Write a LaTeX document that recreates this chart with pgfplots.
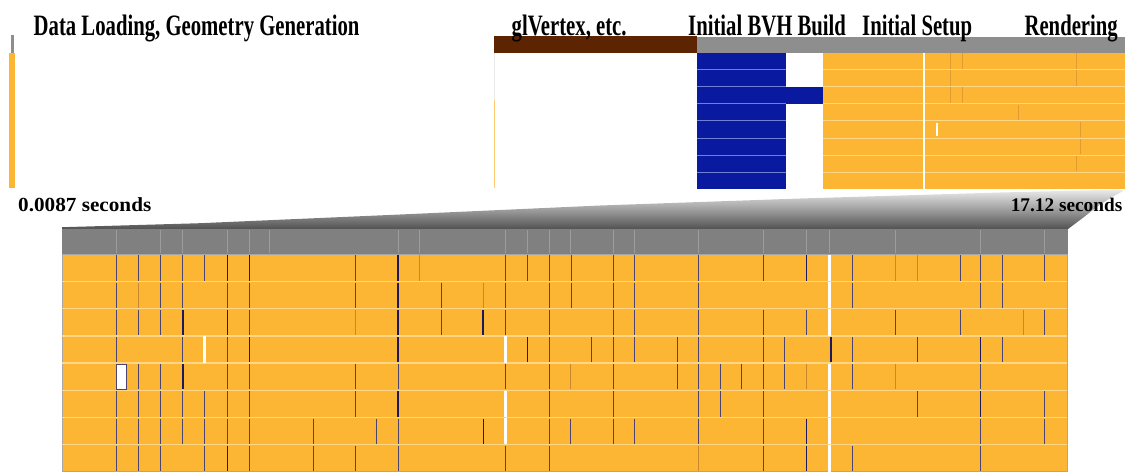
\documentclass[border=0pt]{standalone}
\usepackage{pgfplots}
\pgfplotsset{compat=1.18}
\usepackage{pgfplotstable}
\usepackage{fontspec}
\setmainfont{Liberation Serif}
\newfontfamily\condfont[FakeStretch=0.7]{Liberation Serif}
\newfontfamily\widefont[FakeStretch=1.06]{Liberation Serif}

\definecolor{task}{HTML}{FDB634}
\definecolor{taskline}{HTML}{FFD684}
\definecolor{bvh}{HTML}{0A1AA0}
\definecolor{bvhline}{HTML}{7080D4}
\definecolor{glv}{HTML}{5C2400}
\definecolor{hdr}{HTML}{8E8E8E}
\definecolor{hdrlow}{HTML}{808080}
\definecolor{hdrtick}{HTML}{9C9C9C}
\definecolor{sep}{HTML}{4A4470}
\definecolor{sepdark}{HTML}{1C1A5C}
\definecolor{sepfaint}{HTML}{C8882E}

% Rendering phase, per thread: task boundaries (x position, thread row)
\pgfplotstableread{
x r
116.7 0
138.9 0
160.7 0
182.9 0
204.7 0
355.9 0
505.7 0
527.7 0
549 0
571 0
613.4 0
634.6 0
698.4 0
763.4 0
852.8 0
960.4 0
980.2 0
1002 0
1044.6 0
116.7 1
160.7 1
182.9 1
227.5 1
249.3 1
355.9 1
441 1
505.7 1
549 1
571 1
613.4 1
634.6 1
698.4 1
852.8 1
980.2 1
1002 1
116.7 2
138.9 2
160.7 2
249.3 2
441 2
505.7 2
549 2
613.4 2
634.6 2
698.4 2
763.4 2
806.7 2
895.7 2
960.4 2
1044.6 2
116.7 3
182.9 3
227.5 3
549 3
591.7 3
613.4 3
634.6 3
677.4 3
698.4 3
763.4 3
784.3 3
852.8 3
917 3
1002 3
138.9 4
160.7 4
227.5 4
249.3 4
355.9 4
398 4
505.7 4
549 4
613.4 4
677.4 4
698.4 4
720 4
741.7 4
763.4 4
784.3 4
852.8 4
980.2 4
116.7 5
138.9 5
160.7 5
182.9 5
204.5 5
227.5 5
249.3 5
355.9 5
549 5
613.4 5
698.4 5
720 5
763.4 5
917 5
1044.6 5
116.7 6
138.9 6
160.7 6
182.9 6
204.5 6
227.5 6
249.3 6
313.5 6
376.7 6
398 6
549 6
570.7 6
613.4 6
634.6 6
698.4 6
763.4 6
980.2 6
1044.6 6
116.7 7
138.9 7
160.7 7
204.5 7
249.3 7
313.5 7
355.9 7
398 7
505.7 7
549 7
763.4 7
852.8 7
980.2 7
}\sepnormal

\pgfplotstableread{
x r
227.5 0
249.3 0
398 0
806.7 0
398 1
182.9 2
227.5 2
398 2
483 2
249.3 3
398 3
527.7 3
831 3
980.2 3
182.9 4
398 5
980.2 5
483.3 6
806.7 6
227.5 7
806.7 7
}\sepdarktab

\pgfplotstableread{
x r
419 0
895.7 0
917 0
138.9 1
483 1
355.9 2
1023.6 2
570.7 4
806.7 4
895.7 4
698.4 7
}\sepfainttab

\pgfplotstableread{
x r w
829.4 0 3
829.4 1 3
829.4 2 3
204.5 3 1.5
505.7 3 2.2
829.4 4 3
505.7 5 2.2
829.4 5 3
505.7 6 2.2
829.4 6 3
829.4 7 3
}\gaptab

% faint boundaries inside the short rendering block of the overview
\pgfplotstableread{
x r
950.5 0
962 0
1076 0
950.5 1
1076 1
950.5 2
962 2
1018.6 3
1080.5 4
1080.5 5
1076 6
}\overviewsep

\begin{document}
\begin{tikzpicture}
\begin{axis}[
  x=1pt, y=1pt, y dir=reverse,
  xmin=0, xmax=1127, ymin=0, ymax=474,
  scale only axis, clip=false,
  axis lines=box, axis line style={draw=none},
  xtick=\empty, ytick=\empty,
]
% ---------- overview timeline ----------
% data loading (compressed)
\addplot[fill=hdr, draw=none] coordinates {(11,35) (14,35) (14,52.5) (11,52.5)} -- cycle;
\addplot[fill=task, draw=none] coordinates {(8.5,52.5) (15,52.5) (15,188) (8.5,188)} -- cycle;
% glVertex phase
\addplot[fill=glv, draw=none] coordinates {(494.3,36) (696.7,36) (696.7,52.5) (494.3,52.5)} -- cycle;
\addplot[color=black!8, line width=0.8pt] coordinates {(494.3,52.5) (494.3,100)};
\addplot[color=task!70!white, line width=0.9pt] coordinates {(494.3,100) (494.3,188)};
% header of BVH build / setup / rendering
\addplot[fill=hdr, draw=none] coordinates {(696.7,37) (1125,37) (1125,52.5) (696.7,52.5)} -- cycle;
% initial BVH build
\addplot[fill=bvh, draw=none] coordinates {(697.3,52.5) (786,52.5) (786,189.3) (697.3,189.3)} -- cycle;
\addplot[fill=bvh, draw=none] coordinates {(786,86.7) (822.7,86.7) (822.7,103.8) (786,103.8)} -- cycle;
\addplot[bvhline, line width=0.9pt, unbounded coords=jump] table {
x y
697.3 69.6
786 69.6
nan nan
697.3 86.7
786 86.7
nan nan
697.3 103.8
786 103.8
nan nan
697.3 120.9
786 120.9
nan nan
697.3 138
786 138
nan nan
697.3 155.1
786 155.1
nan nan
697.3 172.2
786 172.2
};
% setup + rendering block
\addplot[fill=task, draw=none] coordinates {(822.7,52.5) (1125,52.5) (1125,189.3) (822.7,189.3)} -- cycle;
\addplot[taskline, line width=0.9pt, unbounded coords=jump] table {
x y
822.7 69.6
1125 69.6
nan nan
822.7 86.7
1125 86.7
nan nan
822.7 103.8
1125 103.8
nan nan
822.7 120.9
1125 120.9
nan nan
822.7 138
1125 138
nan nan
822.7 155.1
1125 155.1
nan nan
822.7 172.2
1125 172.2
};
\addplot[only marks, mark=|, mark size=7.8pt, mark options={draw=sepfaint, draw opacity=0.55, line width=0.8pt}]
  table[x=x, y expr={52.5+17.1*(\thisrow{r}+0.5)}] {\overviewsep};
\addplot[white, line width=1.6pt] coordinates {(923.7,52.5) (923.7,189.3)};
\addplot[white, line width=1.4pt] coordinates {(937,123) (937,136)};

% ---------- zoom connector ----------
\addplot[draw=none, top color=black!8, middle color=black!30, bottom color=black!68]
  coordinates {(62,229) (62,227.2) (200,223.2) (400,214.5) (600,205.5) (800,198.5)
               (1000,192.5) (1118,189.6) (1124,190.5) (1112,197) (1098,206)
               (1084,217) (1068,229)} -- cycle;

% ---------- rendering detail ----------
\addplot[fill=hdrlow, draw=none] coordinates {(62,229) (1068,229) (1068,254.3) (62,254.3)} -- cycle;
\addplot[only marks, mark=|, mark size=11.5pt, mark options={draw=hdrtick, line width=1pt}]
  coordinates {(116.7,241.6) (160.7,241.6) (182.9,241.6) (227.5,241.6) (249.3,241.6)
               (269,241.6) (398,241.6) (419,241.6) (505.7,241.6) (527.7,241.6)
               (549,241.6) (570.7,241.6) (613.4,241.6) (634.6,241.6) (698.4,241.6)
               (763.4,241.6) (806.7,241.6) (829.4,241.6) (895.7,241.6) (980.2,241.6)
               (1044.6,241.6)};
\addplot[fill=task, draw=black!35, line width=0.6pt] coordinates {(62,254.3) (1067,254.3) (1067,471.7) (62,471.7)} -- cycle;
\addplot[taskline, line width=1.3pt, unbounded coords=jump] table {
x y
62 281.5
1067 281.5
nan nan
62 308.7
1067 308.7
nan nan
62 335.9
1067 335.9
nan nan
62 363.1
1067 363.1
nan nan
62 390.3
1067 390.3
nan nan
62 417.5
1067 417.5
nan nan
62 444.7
1067 444.7
};
\addplot[only marks, mark=|, mark size=12.6pt, mark options={draw=sepfaint, line width=1pt}]
  table[x=x, y expr={254.3+27.2*(\thisrow{r}+0.5)}] {\sepfainttab};
\addplot[only marks, mark=|, mark size=12.6pt, mark options={draw=sep, line width=1pt}]
  table[x=x, y expr={254.3+27.2*(\thisrow{r}+0.5)}] {\sepnormal};
\addplot[only marks, mark=|, mark size=12.6pt, mark options={draw=sepdark, line width=1.3pt}]
  table[x=x, y expr={254.3+27.2*(\thisrow{r}+0.5)}] {\sepdarktab};
\addplot[only marks, mark=|, mark size=13.2pt, mark options={draw=white, line width=2.6pt}]
  table[x=x, y expr={254.3+27.2*(\thisrow{r}+0.5)}] {\gaptab};
\addplot[fill=white, draw=sep, line width=0.6pt] coordinates {(116.7,364.5) (126.5,364.5) (126.5,389) (116.7,389)} -- cycle;

% ---------- labels ----------
\node[anchor=base west, inner sep=0pt, font=\condfont\bfseries\fontsize{29.6}{32}\selectfont]
  at (axis cs:33.5,35) {Data Loading, Geometry Generation};
\node[anchor=base west, inner sep=0pt, font=\condfont\bfseries\fontsize{29.6}{32}\selectfont]
  at (axis cs:511.5,35) {glVertex, etc.};
\node[anchor=base west, inner sep=0pt, font=\condfont\bfseries\fontsize{29.6}{32}\selectfont]
  at (axis cs:688,35) {Initial BVH Build};
\node[anchor=base west, inner sep=0pt, font=\condfont\bfseries\fontsize{29.6}{32}\selectfont]
  at (axis cs:862,35) {Initial Setup};
\node[anchor=base east, inner sep=0pt, font=\condfont\bfseries\fontsize{29.6}{32}\selectfont]
  at (axis cs:1118,35) {Rendering};
\node[anchor=base west, inner sep=0pt, font=\widefont\bfseries\fontsize{20}{22}\selectfont]
  at (axis cs:18,211) {0.0087 seconds};
\node[anchor=base east, inner sep=0pt, font=\bfseries\fontsize{19.3}{21}\selectfont]
  at (axis cs:1122.5,211.5) {17.12 seconds};
\end{axis}
\end{tikzpicture}
\end{document}
